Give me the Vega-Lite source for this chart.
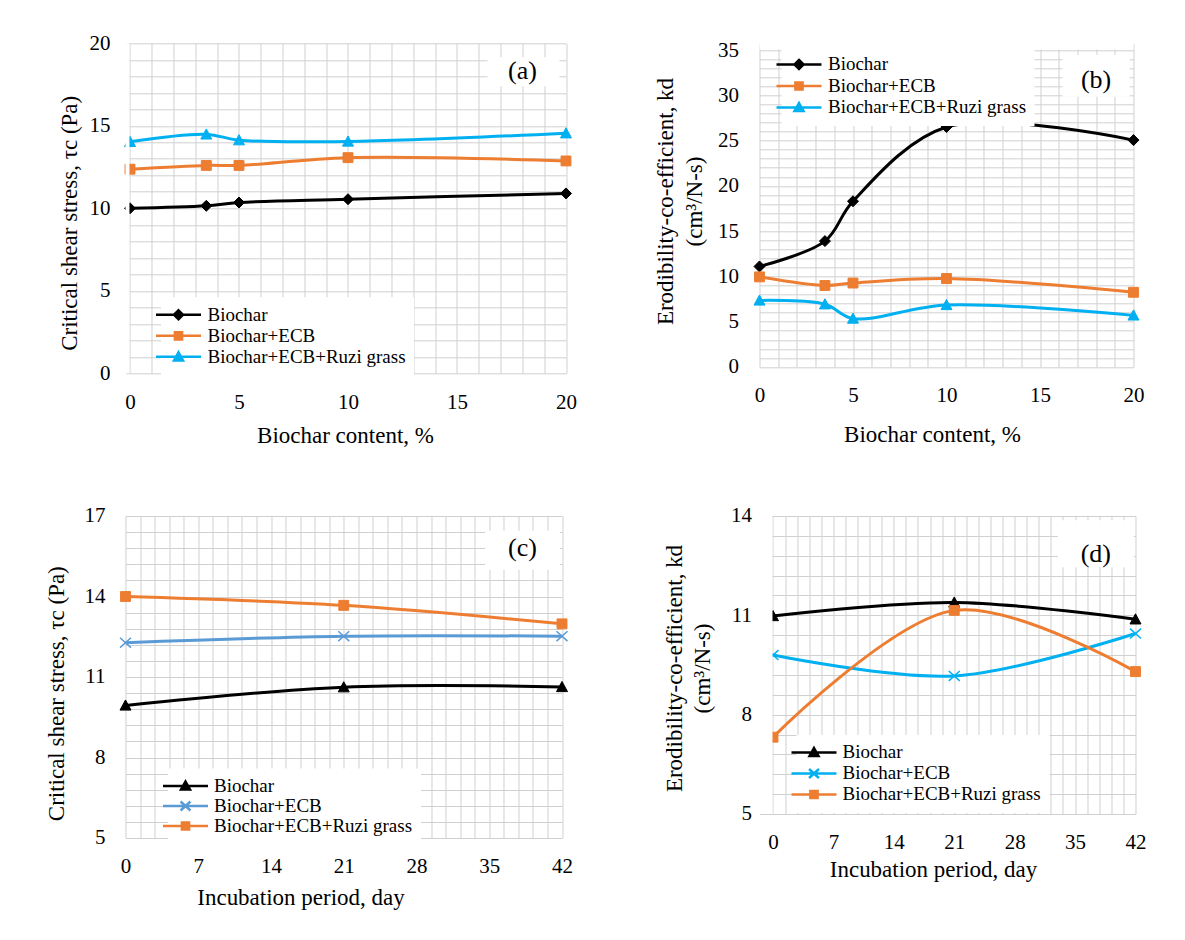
{
  "$schema": "https://vega.github.io/schema/vega-lite/v6.json",
  "padding": {"left": 44.5, "top": 32.3, "right": 0, "bottom": 0},
  "background": "white",
  "bounds": "flush",
  "columns": 2,
  "spacing": {"row": 142.7, "column": 193},
  "resolve": {"scale": {"color": "independent"}},
  "config": {
    "view": {"stroke": null},
    "font": "Liberation Serif",
    "axis": {"labelFont": "Liberation Serif", "titleFont": "Liberation Serif", "labelColor": "#000000", "titleColor": "#000000", "labelFontSize": 21, "titleFontSize": 23, "titleFontWeight": "normal", "grid": true, "gridColor": "#d0d0d0", "gridWidth": 1, "gridOpacity": 1, "domain": false, "ticks": false, "labelOverlap": false, "labelFlush": false, "labelBound": false, "tickCount": 1000},
    "axisX": {"labelPadding": 18},
    "legend": {"labelFont": "Liberation Serif", "labelFontSize": 19, "labelColor": "#000000", "labelLimit": 400, "fillColor": "white", "padding": 8, "symbolSize": 81, "symbolStrokeWidth": 2.5, "orient": "none", "direction": "vertical", "labelBaseline": "middle"}
  },
  "datasets": {
    "a": [
      {"x": 0, "y": 10.0, "s": "Biochar"}, {"x": 3.5, "y": 10.15, "s": "Biochar"}, {"x": 5, "y": 10.35, "s": "Biochar"}, {"x": 10, "y": 10.55, "s": "Biochar"}, {"x": 20, "y": 10.9, "s": "Biochar"},
      {"x": 0, "y": 12.37, "s": "Biochar+ECB"}, {"x": 3.5, "y": 12.6, "s": "Biochar+ECB"}, {"x": 5, "y": 12.6, "s": "Biochar+ECB"}, {"x": 10, "y": 13.07, "s": "Biochar+ECB"}, {"x": 20, "y": 12.87, "s": "Biochar+ECB"},
      {"x": 0, "y": 14.03, "s": "Biochar+ECB+Ruzi grass"}, {"x": 3.5, "y": 14.48, "s": "Biochar+ECB+Ruzi grass"}, {"x": 5, "y": 14.13, "s": "Biochar+ECB+Ruzi grass"}, {"x": 10, "y": 14.05, "s": "Biochar+ECB+Ruzi grass"}, {"x": 20, "y": 14.55, "s": "Biochar+ECB+Ruzi grass"}
    ],
    "b": [
      {"x": 0, "y": 11.1, "s": "Biochar"}, {"x": 3.5, "y": 13.9, "s": "Biochar"}, {"x": 5, "y": 18.3, "s": "Biochar"}, {"x": 10, "y": 26.5, "s": "Biochar"}, {"x": 20, "y": 25.05, "s": "Biochar"},
      {"x": 0, "y": 9.95, "s": "Biochar+ECB"}, {"x": 3.5, "y": 9.0, "s": "Biochar+ECB"}, {"x": 5, "y": 9.27, "s": "Biochar+ECB"}, {"x": 10, "y": 9.77, "s": "Biochar+ECB"}, {"x": 20, "y": 8.25, "s": "Biochar+ECB"},
      {"x": 0, "y": 7.35, "s": "Biochar+ECB+Ruzi grass"}, {"x": 3.5, "y": 6.93, "s": "Biochar+ECB+Ruzi grass"}, {"x": 5, "y": 5.35, "s": "Biochar+ECB+Ruzi grass"}, {"x": 10, "y": 6.85, "s": "Biochar+ECB+Ruzi grass"}, {"x": 20, "y": 5.7, "s": "Biochar+ECB+Ruzi grass"}
    ],
    "c": [
      {"x": 0, "y": 9.94, "s": "Biochar"}, {"x": 21, "y": 10.62, "s": "Biochar"}, {"x": 42, "y": 10.63, "s": "Biochar"},
      {"x": 0, "y": 12.28, "s": "Biochar+ECB"}, {"x": 21, "y": 12.52, "s": "Biochar+ECB"}, {"x": 42, "y": 12.52, "s": "Biochar+ECB"},
      {"x": 0, "y": 14.0, "s": "Biochar+ECB+Ruzi grass"}, {"x": 21, "y": 13.67, "s": "Biochar+ECB+Ruzi grass"}, {"x": 42, "y": 12.98, "s": "Biochar+ECB+Ruzi grass"}
    ],
    "d": [
      {"x": 0, "y": 10.98, "s": "Biochar"}, {"x": 21, "y": 11.39, "s": "Biochar"}, {"x": 42, "y": 10.88, "s": "Biochar"},
      {"x": 0, "y": 9.8, "s": "Biochar+ECB"}, {"x": 21, "y": 9.17, "s": "Biochar+ECB"}, {"x": 42, "y": 10.45, "s": "Biochar+ECB"},
      {"x": 0, "y": 7.32, "s": "Biochar+ECB+Ruzi grass"}, {"x": 21, "y": 11.15, "s": "Biochar+ECB+Ruzi grass"}, {"x": 42, "y": 9.3, "s": "Biochar+ECB+Ruzi grass"}
    ]
  },
  "concat": [
    {
      "width": 440.5, "height": 330,
      "layer": [
        {
          "data": {"name": "a"},
          "encoding": {
            "x": {"field": "x", "type": "quantitative", "scale": {"domain": [-0.2064, 20], "nice": false, "zero": false},
              "axis": {"title": "Biochar content, %", "tickCount": 1000, "values": [0,1,2,3,4,5,6,7,8,9,10,11,12,13,14,15,16,17,18,19,20], "labelExpr": "datum.value % 5 === 0 ? format(datum.value, 'd') : ''", "titleX": 219.5, "titleY": 62, "titleAlign": "center", "titleBaseline": "middle", "titleAngle": 0}},
            "y": {"field": "y", "type": "quantitative", "scale": {"domain": [0, 20], "nice": false, "zero": false},
              "axis": {"title": "Critical shear stress,  τc (Pa)", "tickCount": 1000, "values": [0,1,2,3,4,5,6,7,8,9,10,11,12,13,14,15,16,17,18,19,20], "labelExpr": "datum.value % 5 === 0 ? format(datum.value, 'd') : ''", "labelPadding": 15.5, "titleX": -56.5, "titleY": 179.5, "titleAngle": 270, "titleAlign": "center", "titleBaseline": "middle"}}
          },
          "layer": [
            {"mark": {"type": "line", "interpolate": "catmull-rom", "strokeWidth": 3},
              "encoding": {"color": {"field": "s", "type": "nominal", "scale": {"domain": ["Biochar", "Biochar+ECB", "Biochar+ECB+Ruzi grass"], "range": ["#000000", "#ED7D31", "#00B0F0"]},
                "legend": {"title": null, "legendX": 35.5, "legendY": 254, "labelOffset": 19.5, "rowPadding": 1,
                  "encode": {"symbols": {"update": {
                    "shape": {"signal": "datum.value === 'Biochar' ? 'M-5,0L5,0M0,-1L1,0L0,1L-1,0Z' : datum.value === 'Biochar+ECB' ? 'M-5,0L5,0M-0.8,-0.8L0.8,-0.8L0.8,0.8L-0.8,0.8Z' : 'M-5,0L5,0M0,-1L1,0.8L-1,0.8Z'"},
                    "fill": {"signal": "datum.value === 'Biochar' ? '#000000' : datum.value === 'Biochar+ECB' ? '#ED7D31' : '#00B0F0'"}}}}}}}},
            {"transform": [{"filter": "datum.s === 'Biochar'"}], "mark": {"type": "point", "shape": "M0,-1L1,0L0,1L-1,0Z", "filled": true, "color": "#000000", "stroke": "#000000", "size": 121, "strokeWidth": 1, "opacity": 1}},
            {"transform": [{"filter": "datum.s === 'Biochar+ECB'"}], "mark": {"type": "point", "shape": "M-0.9,-0.9L0.9,-0.9L0.9,0.9L-0.9,0.9Z", "filled": true, "color": "#ED7D31", "stroke": "#ED7D31", "size": 121, "strokeWidth": 1, "opacity": 1}},
            {"transform": [{"filter": "datum.s === 'Biochar+ECB+Ruzi grass'"}], "mark": {"type": "point", "shape": "M0,-1L1,0.85L-1,0.85Z", "filled": true, "color": "#00B0F0", "stroke": "#00B0F0", "size": 121, "strokeWidth": 1, "opacity": 1}}
          ]
        },
        {"data": {"values": [{}]}, "mark": {"type": "rect", "fill": "white"}, "encoding": {"x": {"datum": -0.2064, "type": "quantitative"}, "x2": {"datum": -0.025}, "y": {"datum": 0, "type": "quantitative"}, "y2": {"datum": 20}}},
        {"data": {"values": [{}]}, "mark": {"type": "rect", "fill": "white"}, "encoding": {"x": {"datum": 16.4, "type": "quantitative"}, "x2": {"datum": 19.7}, "y": {"datum": 17.4, "type": "quantitative"}, "y2": {"datum": 19.15}}},
        {"data": {"values": [{}]}, "mark": {"type": "text", "text": "(a)", "font": "Liberation Serif", "fontSize": 26, "color": "#000000"}, "encoding": {"x": {"datum": 18, "type": "quantitative"}, "y": {"datum": 18.3, "type": "quantitative"}}}
      ]
    },
    {
      "width": 374, "height": 323.7,
      "layer": [
        {
          "data": {"name": "b"},
          "encoding": {
            "x": {"field": "x", "type": "quantitative", "scale": {"domain": [0, 20], "nice": false, "zero": false},
              "axis": {"title": "Biochar content, %", "tickCount": 1000, "values": [0,1,2,3,4,5,6,7,8,9,10,11,12,13,14,15,16,17,18,19,20], "labelExpr": "datum.value % 5 === 0 ? format(datum.value, 'd') : ''", "titleX": 172.5, "titleY": 68, "titleAlign": "center", "titleBaseline": "middle", "titleAngle": 0}},
            "y": {"field": "y", "type": "quantitative", "scale": {"domain": [0, 35.74], "nice": false, "zero": false},
              "axis": {"title": ["Erodibility-co-efficient, kd", "(cm³/N-s)"], "tickCount": 1000, "values": [0,1,2,3,4,5,6,7,8,9,10,11,12,13,14,15,16,17,18,19,20,21,22,23,24,25,26,27,28,29,30,31,32,33,34,35], "labelExpr": "datum.value % 5 === 0 ? format(datum.value, 'd') : ''", "labelPadding": 21, "titleX": -94, "titleY": 157.7, "titleAngle": 270, "titleAlign": "center", "titleBaseline": "middle", "titleLineHeight": 29}}
          },
          "layer": [
            {"mark": {"type": "line", "interpolate": "catmull-rom", "strokeWidth": 3},
              "encoding": {"color": {"field": "s", "type": "nominal", "scale": {"domain": ["Biochar", "Biochar+ECB", "Biochar+ECB+Ruzi grass"], "range": ["#000000", "#ED7D31", "#00B0F0"]},
                "legend": {"title": null, "legendX": 22, "legendY": 3.7, "labelOffset": 19.5, "rowPadding": 1.5,
                  "encode": {"symbols": {"update": {
                    "shape": {"signal": "datum.value === 'Biochar' ? 'M-5,0L5,0M0,-1L1,0L0,1L-1,0Z' : datum.value === 'Biochar+ECB' ? 'M-5,0L5,0M-0.8,-0.8L0.8,-0.8L0.8,0.8L-0.8,0.8Z' : 'M-5,0L5,0M0,-1L1,0.8L-1,0.8Z'"},
                    "fill": {"signal": "datum.value === 'Biochar' ? '#000000' : datum.value === 'Biochar+ECB' ? '#ED7D31' : '#00B0F0'"}}}}}}}},
            {"transform": [{"filter": "datum.s === 'Biochar'"}], "mark": {"type": "point", "shape": "M0,-1L1,0L0,1L-1,0Z", "filled": true, "color": "#000000", "stroke": "#000000", "size": 121, "strokeWidth": 1, "opacity": 1}},
            {"transform": [{"filter": "datum.s === 'Biochar+ECB'"}], "mark": {"type": "point", "shape": "M-0.9,-0.9L0.9,-0.9L0.9,0.9L-0.9,0.9Z", "filled": true, "color": "#ED7D31", "stroke": "#ED7D31", "size": 121, "strokeWidth": 1, "opacity": 1}},
            {"transform": [{"filter": "datum.s === 'Biochar+ECB+Ruzi grass'"}], "mark": {"type": "point", "shape": "M0,-1L1,0.85L-1,0.85Z", "filled": true, "color": "#00B0F0", "stroke": "#00B0F0", "size": 121, "strokeWidth": 1, "opacity": 1}}
          ]
        },
        {"data": {"values": [{}]}, "mark": {"type": "rect", "fill": "white"}, "encoding": {"x": {"datum": 0, "type": "quantitative"}, "x2": {"datum": 20}, "y": {"datum": 35.055, "type": "quantitative"}, "y2": {"datum": 35.74}}},
        {"data": {"values": [{}]}, "mark": {"type": "rect", "fill": "white"}, "encoding": {"x": {"datum": 16.2, "type": "quantitative"}, "x2": {"datum": 19.8}, "y": {"datum": 29.85, "type": "quantitative"}, "y2": {"datum": 34.45}}},
        {"data": {"values": [{}]}, "mark": {"type": "text", "text": "(b)", "font": "Liberation Serif", "fontSize": 26, "color": "#000000"}, "encoding": {"x": {"datum": 18, "type": "quantitative"}, "y": {"datum": 31.7, "type": "quantitative"}}}
      ]
    },
    {
      "width": 436.5, "height": 322,
      "layer": [
        {
          "data": {"name": "c"},
          "encoding": {
            "x": {"field": "x", "type": "quantitative", "scale": {"domain": [0, 42], "nice": false, "zero": false},
              "axis": {"title": "Incubation period, day", "tickCount": 1000, "values": [0,1.4,2.8,4.2,5.6,7,8.4,9.8,11.2,12.6,14,15.4,16.8,18.2,19.6,21,22.4,23.8,25.2,26.6,28,29.4,30.8,32.2,33.6,35,36.4,37.8,39.2,40.6,42], "labelExpr": "abs(datum.value / 7 - round(datum.value / 7)) < 0.001 ? format(datum.value, 'd') : ''", "titleX": 175, "titleY": 60, "titleAlign": "center", "titleBaseline": "middle", "titleAngle": 0}},
            "y": {"field": "y", "type": "quantitative", "scale": {"domain": [5, 17], "nice": false, "zero": false},
              "axis": {"title": "Critical shear stress,  τc (Pa)", "tickCount": 1000, "values": [5,5.6,6.2,6.8,7.4,8,8.6,9.2,9.8,10.4,11,11.6,12.2,12.8,13.4,14,14.6,15.2,15.8,16.4,17], "labelExpr": "abs((datum.value - 5) / 3 - round((datum.value - 5) / 3)) < 0.001 ? format(datum.value, 'd') : ''", "labelPadding": 20.5, "titleX": -69.5, "titleY": 177.2, "titleAngle": 270, "titleAlign": "center", "titleBaseline": "middle"}}
          },
          "layer": [
            {"mark": {"type": "line", "interpolate": "catmull-rom", "strokeWidth": 3},
              "encoding": {"color": {"field": "s", "type": "nominal", "scale": {"domain": ["Biochar", "Biochar+ECB", "Biochar+ECB+Ruzi grass"], "range": ["#000000", "#5B9BD5", "#ED7D31"]},
                "legend": {"title": null, "legendX": 42.5, "legendY": 252.5, "labelOffset": 19, "rowPadding": -0.5,
                  "encode": {"symbols": {"update": {
                    "shape": {"signal": "datum.value === 'Biochar' ? 'M-5,0L5,0M0,-1L1,0.8L-1,0.8Z' : datum.value === 'Biochar+ECB' ? 'M-5,0L5,0M-1.1,-1L1.1,1M-1.1,1L1.1,-1' : 'M-5,0L5,0M-0.8,-0.8L0.8,-0.8L0.8,0.8L-0.8,0.8Z'"},
                    "fill": {"signal": "datum.value === 'Biochar' ? '#000000' : datum.value === 'Biochar+ECB' ? '#5B9BD5' : '#ED7D31'"}}}}}}}},
            {"transform": [{"filter": "datum.s === 'Biochar'"}], "mark": {"type": "point", "shape": "M0,-1L1,0.85L-1,0.85Z", "filled": true, "color": "#000000", "stroke": "#000000", "size": 121, "strokeWidth": 1, "opacity": 1}},
            {"transform": [{"filter": "datum.s === 'Biochar+ECB'"}], "mark": {"type": "point", "shape": "M-1,-0.9L1,0.9M-1,0.9L1,-0.9", "filled": false, "color": "#5B9BD5", "size": 121, "strokeWidth": 1.5, "opacity": 1}},
            {"transform": [{"filter": "datum.s === 'Biochar+ECB+Ruzi grass'"}], "mark": {"type": "point", "shape": "M-0.9,-0.9L0.9,-0.9L0.9,0.9L-0.9,0.9Z", "filled": true, "color": "#ED7D31", "stroke": "#ED7D31", "size": 121, "strokeWidth": 1, "opacity": 1}}
          ]
        },
        {"data": {"values": [{}]}, "mark": {"type": "rect", "fill": "white"}, "encoding": {"x": {"datum": 34.6, "type": "quantitative"}, "x2": {"datum": 41.8}, "y": {"datum": 15.0, "type": "quantitative"}, "y2": {"datum": 16.45}}},
        {"data": {"values": [{}]}, "mark": {"type": "text", "text": "(c)", "font": "Liberation Serif", "fontSize": 26, "color": "#000000"}, "encoding": {"x": {"datum": 38.2, "type": "quantitative"}, "y": {"datum": 15.8, "type": "quantitative"}}}
      ]
    },
    {
      "width": 376, "height": 298,
      "layer": [
        {
          "data": {"name": "d"},
          "encoding": {
            "x": {"field": "x", "type": "quantitative", "scale": {"domain": [-1.5641, 42], "nice": false, "zero": false},
              "axis": {"title": "Incubation period, day", "tickCount": 1000, "values": [0,1.4,2.8,4.2,5.6,7,8.4,9.8,11.2,12.6,14,15.4,16.8,18.2,19.6,21,22.4,23.8,25.2,26.6,28,29.4,30.8,32.2,33.6,35,36.4,37.8,39.2,40.6,42], "labelExpr": "abs(datum.value / 7 - round(datum.value / 7)) < 0.001 ? format(datum.value, 'd') : ''", "titleX": 173.5, "titleY": 56, "titleAlign": "center", "titleBaseline": "middle", "titleAngle": 0}},
            "y": {"field": "y", "type": "quantitative", "scale": {"domain": [5, 14], "nice": false, "zero": false},
              "axis": {"title": ["Erodibility-co-efficient, kd", "(cm³/N-s)"], "tickCount": 1000, "values": [5,5.6,6.2,6.8,7.4,8,8.6,9.2,9.8,10.4,11,11.6,12.2,12.8,13.4,14], "labelExpr": "abs((datum.value - 5) / 3 - round((datum.value - 5) / 3)) < 0.001 ? format(datum.value, 'd') : ''", "labelPadding": 8, "titleX": -85, "titleY": 152, "titleAngle": 270, "titleAlign": "center", "titleBaseline": "middle", "titleLineHeight": 28}}
          },
          "layer": [
            {"mark": {"type": "line", "interpolate": "catmull-rom", "strokeWidth": 3},
              "encoding": {"color": {"field": "s", "type": "nominal", "scale": {"domain": ["Biochar", "Biochar+ECB", "Biochar+ECB+Ruzi grass"], "range": ["#000000", "#00B0F0", "#ED7D31"]},
                "legend": {"title": null, "legendX": 37, "legendY": 219, "labelOffset": 19, "rowPadding": 1,
                  "encode": {"symbols": {"update": {
                    "shape": {"signal": "datum.value === 'Biochar' ? 'M-5,0L5,0M0,-1L1,0.8L-1,0.8Z' : datum.value === 'Biochar+ECB' ? 'M-5,0L5,0M-1.1,-1L1.1,1M-1.1,1L1.1,-1' : 'M-5,0L5,0M-0.8,-0.8L0.8,-0.8L0.8,0.8L-0.8,0.8Z'"},
                    "fill": {"signal": "datum.value === 'Biochar' ? '#000000' : datum.value === 'Biochar+ECB' ? '#00B0F0' : '#ED7D31'"}}}}}}}},
            {"transform": [{"filter": "datum.s === 'Biochar'"}], "mark": {"type": "point", "shape": "M0,-1L1,0.85L-1,0.85Z", "filled": true, "color": "#000000", "stroke": "#000000", "size": 121, "strokeWidth": 1, "opacity": 1}},
            {"transform": [{"filter": "datum.s === 'Biochar+ECB'"}], "mark": {"type": "point", "shape": "M-1,-0.9L1,0.9M-1,0.9L1,-0.9", "filled": false, "color": "#00B0F0", "size": 121, "strokeWidth": 1.5, "opacity": 1}},
            {"transform": [{"filter": "datum.s === 'Biochar+ECB+Ruzi grass'"}], "mark": {"type": "point", "shape": "M-0.9,-0.9L0.9,-0.9L0.9,0.9L-0.9,0.9Z", "filled": true, "color": "#ED7D31", "stroke": "#ED7D31", "size": 121, "strokeWidth": 1, "opacity": 1}}
          ]
        },
        {"data": {"values": [{}]}, "mark": {"type": "rect", "fill": "white"}, "encoding": {"x": {"datum": -1.5641, "type": "quantitative"}, "x2": {"datum": -0.06}, "y": {"datum": 5, "type": "quantitative"}, "y2": {"datum": 14}}},
        {"data": {"values": [{}]}, "mark": {"type": "rect", "fill": "white"}, "encoding": {"x": {"datum": 33, "type": "quantitative"}, "x2": {"datum": 41.8}, "y": {"datum": 12.45, "type": "quantitative"}, "y2": {"datum": 13.87}}},
        {"data": {"values": [{}]}, "mark": {"type": "text", "text": "(d)", "font": "Liberation Serif", "fontSize": 26, "color": "#000000"}, "encoding": {"x": {"datum": 37.4, "type": "quantitative"}, "y": {"datum": 12.85, "type": "quantitative"}}}
      ]
    }
  ]
}
